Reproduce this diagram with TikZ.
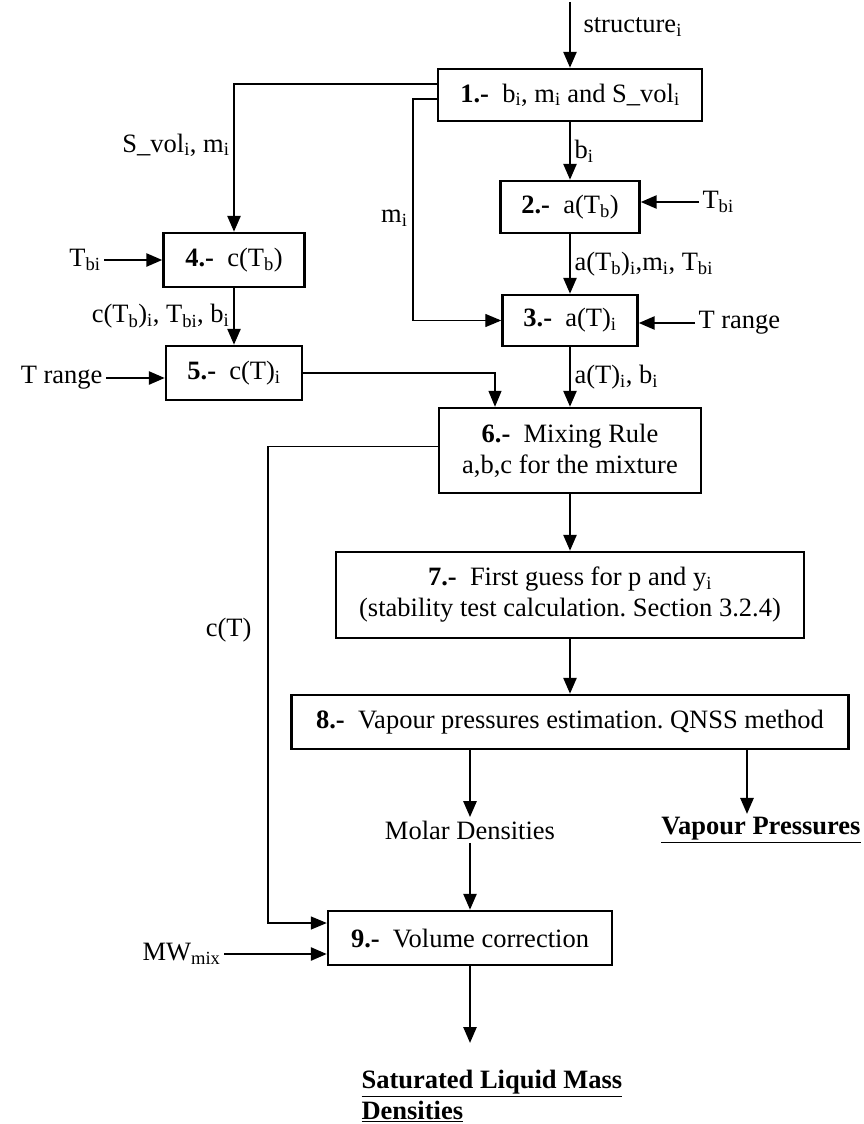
\documentclass[tikz,border=0pt]{standalone}
\usepackage{fontspec}
\setmainfont{Liberation Serif}
\usetikzlibrary{arrows.meta, positioning}
\frenchspacing

\begin{document}
\begin{tikzpicture}[x=1pt,y=-1pt,auto,
    font=\fontsize{26.5}{31}\selectfont,
    box/.style={draw,line width=2.4pt,minimum height=54pt,inner sep=6pt,align=center},
    flow/.style={line width=2.6pt,-{Triangle[length=16pt,width=13pt]}},
    thin flow/.style={line width=1.3pt,-{Triangle[length=16pt,width=13pt]}}]
  \useasboundingbox (0,0) rectangle (863,1124);

  \node[box,minimum width=264pt,minimum height=52pt] (s_1) at (570,95) {\textbf{1.-}~~b\textsubscript{i}, m\textsubscript{i} and S\_vol\textsubscript{i}};
  \node[box,minimum width=139pt,minimum height=52pt] (s_2) at (570,207) {\textbf{2.-}~~a(T\textsubscript{b})};
  \node[box,minimum width=135pt,minimum height=51pt] (s_3) at (570,320.5) {\textbf{3.-}~~a(T)\textsubscript{i}};
  \node[box,minimum width=141pt] (s_4) at (234,260) {\textbf{4.-}~~c(T\textsubscript{b})};
  \node[box,minimum width=136pt] (s_5) at (234,373) {\textbf{5.-}~~c(T)\textsubscript{i}};
  \node[box,minimum width=262pt,minimum height=85pt] (s_6) at (570,450.5) {\textbf{6.-}~~Mixing Rule\\a,b,c for the mixture};
  \node[box,minimum width=468pt,minimum height=86pt] (s_7) at (570,595) {\textbf{7.-}~~First guess for p and y\textsubscript{i}\\(stability test calculation. Section 3.2.4)};
  \node[box,minimum width=557pt] (s_8) at (570,722) {\textbf{8.-}~~Vapour pressures estimation. QNSS method};
  \node[box,minimum width=284pt] (s_9) at (470,938) {\textbf{9.-}~~Volume correction};

  \coordinate (top) at (570,2);
  \coordinate (m_c) at (413,218);
  \coordinate (c_t) at (268,630);
  \coordinate (out) at (470,1043);

  \node (in_s) [anchor=west] at (580,27) {structure\textsubscript{i}};
  \node (t_r) [anchor=west] at (699,202) {T\textsubscript{bi}};
  \node (r_r) [anchor=west] at (695,323) {T range};
  \node (t_l) [anchor=east] at (104,260) {T\textsubscript{bi}};
  \node (r_l) [anchor=east] at (106,378) {T range};
  \node (m_w) [anchor=east] at (224,954) {MW\textsubscript{mix}};
  \node (l_sv) [anchor=east] at (233,145) {S\_vol\textsubscript{i}, m\textsubscript{i}};
  \node (l_m) [anchor=east] at (411,218) {m\textsubscript{i}};
  \node (l_ct) [anchor=east] at (255,630) {c(T)};
  \node (m_d) at (470,830) {Molar Densities};
  \node (v_p) at (761,830) {\underline{\textbf{Vapour Pressures}}};
  \node (s_l) [anchor=north west,align=left] at (358,1067) {\underline{\textbf{Saturated Liquid Mass}}\\\underline{\textbf{Densities}}};
  \coordinate (v_t) at ([xshift=-14pt]v_p.north);

  \draw[flow] (top) -- (s_1);
  \path[flow]
    (s_1) edge node {b\textsubscript{i}} (s_2)
    (s_2) edge node {a(T\textsubscript{b})\textsubscript{i},m\textsubscript{i}, T\textsubscript{bi}} (s_3)
    (s_3) edge node {a(T)\textsubscript{i}, b\textsubscript{i}} (s_6)
    (s_4) edge node[swap] {c(T\textsubscript{b})\textsubscript{i}, T\textsubscript{bi}, b\textsubscript{i}} (s_5)
    (s_6) edge (s_7)
    (s_7) edge (s_8)
    (m_d) edge (s_9)
    (s_9) edge (out);
  \draw[flow] (t_r) -- (t_r -| s_2.east);
  \draw[flow] (r_r) -- (r_r -| s_3.east);
  \draw[flow] (t_l) -- (t_l -| s_4.west);
  \draw[flow] (r_l) -- (r_l -| s_5.west);
  \draw[flow] (m_w) -- (m_w -| s_9.west);
  \draw[flow] ([yshift=11pt]s_1.west) -| (s_4);
  \draw[thin flow] ([yshift=-4pt]s_1.west) -| (m_c) |- (s_3);
  \draw[thin flow] (s_5) -| ([xshift=-75pt]s_6.north);
  \draw[thin flow] ([yshift=4pt]s_6.west) -| (c_t) |- ([yshift=15pt]s_9.west);
  \draw[flow] (s_8.south -| m_d) -- (m_d);
  \draw[flow] (v_t |- s_8.south) -- (v_t);
\end{tikzpicture}
\end{document}
